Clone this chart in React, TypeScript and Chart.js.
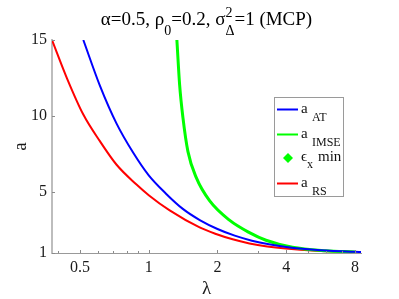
import React, { useEffect, useRef } from "react";
import { Chart, registerables } from "chart.js";

Chart.register(...registerables);

// ---- data ----
const lambdaAT = [0.517, 0.611, 0.723, 0.854, 1.0, 1.19, 1.41, 1.68, 2.0, 2.38, 2.83, 3.36, 4.0, 5.66, 8.0, 8.5];
const aAT = [15.0, 12.0, 9.5, 7.6, 6.1, 4.9, 3.9, 3.15, 2.58, 2.14, 1.81, 1.57, 1.39, 1.18, 1.08, 1.07];

const lambdaIMSE = [1.328, 1.365, 1.412, 1.484, 1.615, 1.846, 2.256, 2.76, 3.26, 4.26, 5.96, 8.0];
const aIMSE = [15.0, 12.07, 9.88, 7.68, 5.95, 4.44, 3.16, 2.34, 1.84, 1.375, 1.15, 1.07];

const lambdaRS = [0.377, 0.438, 0.517, 0.611, 0.723, 0.884, 1.0, 1.235, 1.67, 1.97, 2.33, 2.76, 3.3, 3.98, 5.38, 8.0];
const aRS = [15.0, 12.5, 10.1, 8.35, 6.8, 5.5, 4.8, 3.8, 2.68, 2.25, 1.9, 1.63, 1.43, 1.29, 1.15, 1.067];

const lambdaEpsMin: number[] = [];
const aEpsMin: number[] = [];

const xTicks = [0.5, 1, 2, 4, 8];
const xMinorTicks = [0.4, 0.6, 0.7, 0.8, 0.9, 3, 5, 6, 7];
const yTicks = [1, 5, 10, 15];

const serif = '"Liberation Serif", serif';
const F = (s: number) => `${s}px ${serif}`;

const overlayPlugin = {
  id: "overlay",
  afterDraw(chart: any) {
    const ctx = chart.ctx as CanvasRenderingContext2D;
    const xs = chart.scales.x;
    const ys = chart.scales.y;
    const area = chart.chartArea;
    ctx.save();

    // inward tick marks
    ctx.strokeStyle = "#8a8a8a";
    ctx.lineWidth = 1;
    const bottom = area.bottom;
    const drawXTick = (v: number, len: number) => {
      const px = Math.round(xs.getPixelForValue(v)) + 0.5;
      ctx.beginPath();
      ctx.moveTo(px, bottom);
      ctx.lineTo(px, bottom - len);
      ctx.stroke();
    };
    xTicks.forEach((v) => drawXTick(v, 3));
    xMinorTicks.forEach((v) => drawXTick(v, 2));
    yTicks.forEach((v) => {
      const py = Math.round(ys.getPixelForValue(v)) + 0.5;
      ctx.beginPath();
      ctx.moveTo(area.left, py);
      ctx.lineTo(area.left + 3, py);
      ctx.stroke();
    });

    // title with sub/superscripts
    ctx.fillStyle = "#000";
    ctx.textAlign = "left";
    ctx.textBaseline = "alphabetic";
    const base = 25;
    const segs: any[] = [
      { t: "α=0.5, ρ", s: 19, dy: 0 },
      { t: "0", s: 14, dy: 10 },
      { t: "=0.2, σ", s: 19, dy: 0 },
      { t: "2", s: 14, dy: -8, t2: "Δ", dy2: 10 },
      { t: "=1 (MCP)", s: 19, dy: 0 },
    ];
    let total = 0;
    segs.forEach((sg) => {
      ctx.font = F(sg.s);
      let w = ctx.measureText(sg.t).width;
      if (sg.t2) w = Math.max(w, ctx.measureText(sg.t2).width);
      sg.w = w;
      total += w;
    });
    let x = (area.left + area.right) / 2 - total / 2;
    segs.forEach((sg) => {
      ctx.font = F(sg.s);
      ctx.fillText(sg.t, x, base + sg.dy);
      if (sg.t2) ctx.fillText(sg.t2, x, base + sg.dy2);
      x += sg.w;
    });

    // legend box
    const lx = 274, ly = 97, lw = 69, lh = 99;
    ctx.fillStyle = "#ffffff";
    ctx.fillRect(lx, ly, lw, lh);
    ctx.strokeStyle = "#9a9a9a";
    ctx.lineWidth = 1;
    ctx.strokeRect(lx + 0.5, ly + 0.5, lw, lh);

    const ds = chart.data.datasets;
    const rows = [109, 134, 158, 183];
    const subs = ["AT", "IMSE", "x", "RS"];
    rows.forEach((ry, i) => {
      const d = ds[i];
      if (i === 2) {
        ctx.fillStyle = d.backgroundColor;
        ctx.beginPath();
        ctx.moveTo(288, ry - 5);
        ctx.lineTo(293, ry);
        ctx.lineTo(288, ry + 5);
        ctx.lineTo(283, ry);
        ctx.closePath();
        ctx.fill();
      } else {
        ctx.strokeStyle = d.borderColor;
        ctx.lineWidth = 2;
        ctx.beginPath();
        ctx.moveTo(277, ry + 0.5);
        ctx.lineTo(298, ry + 0.5);
        ctx.stroke();
      }
      ctx.fillStyle = "#111";
      if (i === 2) {
        ctx.font = F(15);
        ctx.fillText("ϵ", 301, ry + 3);
        ctx.font = F(12);
        ctx.fillText("x", 307, ry + 10);
        ctx.font = F(15);
        ctx.fillText("min", 318, ry + 3);
      } else {
        ctx.font = F(15);
        ctx.fillText("a", 301, ry + 4);
        ctx.font = F(12);
        ctx.fillText(subs[i], 312, ry + 12);
      }
    });

    ctx.restore();
  },
};

export default function App() {
  const ref = useRef<HTMLCanvasElement | null>(null);

  useEffect(() => {
    document.body.style.margin = "0";
    const canvas = ref.current;
    if (!canvas) return;
    const toXY = (xs: number[], ys: number[]) => xs.map((x, i) => ({ x, y: ys[i] }));
    const tickFont = { family: serif, size: 16 };
    const chart = new Chart(canvas, {
      type: "scatter",
      data: {
        datasets: [
          {
            label: "a_AT",
            data: toXY(lambdaAT, aAT),
            showLine: true,
            borderColor: "#0000ff",
            backgroundColor: "#0000ff",
            borderWidth: 2,
            pointRadius: 0,
            cubicInterpolationMode: "monotone",
          },
          {
            label: "a_IMSE",
            data: toXY(lambdaIMSE, aIMSE),
            showLine: true,
            borderColor: "#00ff00",
            backgroundColor: "#00ff00",
            borderWidth: 3,
            pointRadius: 0,
            cubicInterpolationMode: "monotone",
          },
          {
            label: "ϵ_x min",
            data: toXY(lambdaEpsMin, aEpsMin),
            showLine: false,
            pointStyle: "rectRot",
            borderColor: "#00ff00",
            backgroundColor: "#00ff00",
            pointRadius: 5,
          },
          {
            label: "a_RS",
            data: toXY(lambdaRS, aRS),
            showLine: true,
            borderColor: "#ff0000",
            backgroundColor: "#ff0000",
            borderWidth: 2,
            pointRadius: 0,
            cubicInterpolationMode: "monotone",
          },
        ],
      },
      options: {
        animation: false,
        responsive: false,
        maintainAspectRatio: false,
        layout: { padding: { top: 40, right: 38, left: 0, bottom: 0 } },
        plugins: {
          legend: { display: false },
          tooltip: { enabled: false },
          title: { display: false },
        },
        scales: {
          x: {
            type: "logarithmic",
            min: 0.377,
            max: 8.5,
            grid: { display: false, drawTicks: false },
            border: { display: true, color: "#999999", width: 1 },
            ticks: {
              font: tickFont,
              color: "#1a1a1a",
              padding: 5,
              autoSkip: false,
              maxRotation: 0,
              callback: (v: any) => String(v),
            },
            afterBuildTicks: (s: any) => {
              s.ticks = xTicks.map((v) => ({ value: v }));
            },
            afterFit: (s: any) => {
              s.height = 46;
            },
            title: {
              display: true,
              text: "λ",
              color: "#1a1a1a",
              font: { family: serif, size: 19, lineHeight: 1 },
              padding: { top: 0, bottom: 0 },
            },
          },
          y: {
            type: "linear",
            min: 1,
            max: 15,
            grid: { display: false, drawTicks: false },
            border: { display: true, color: "#bdbdbd", width: 2 },
            ticks: {
              font: tickFont,
              color: "#1a1a1a",
              padding: 5,
              autoSkip: false,
            },
            afterBuildTicks: (s: any) => {
              s.ticks = yTicks.map((v) => ({ value: v }));
            },
            afterFit: (s: any) => {
              s.width = 52;
            },
            title: {
              display: true,
              text: "a",
              color: "#1a1a1a",
              font: { family: serif, size: 19, lineHeight: 1 },
              padding: { top: 12, bottom: 0 },
            },
          },
        },
      } as any,
      plugins: [overlayPlugin],
    });
    return () => chart.destroy();
  }, []);

  return <canvas ref={ref} width={399} height={299} style={{ display: "block" }} />;
}
